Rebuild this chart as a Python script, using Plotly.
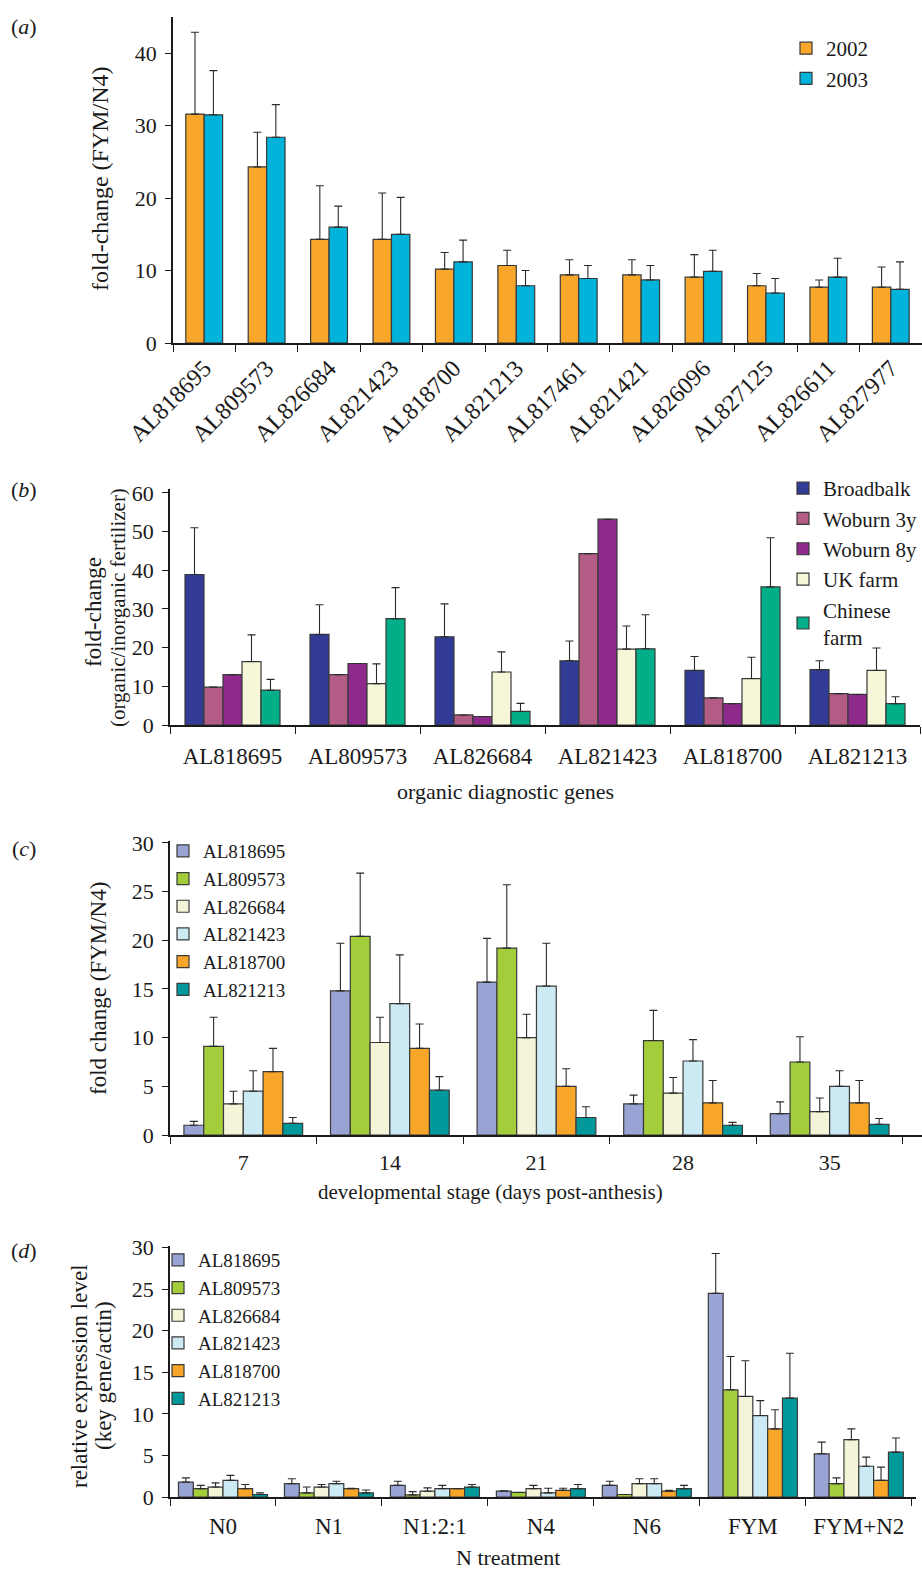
import plotly.graph_objects as go

W, H = 922, 1569
FONT = "Liberation Serif"
BLACK = "#1a1a1a"


def px(x):
    return x / W


def py(y):
    return 1 - y / H


# ---------------- Panel (a) data ----------------
genes_a = ["AL818695", "AL809573", "AL826684", "AL821423", "AL818700", "AL821213",
           "AL817461", "AL821421", "AL826096", "AL827125", "AL826611", "AL827977"]
years_a = ["2002", "2003"]
fc_2002 = [31.6, 24.3, 14.3, 14.3, 10.2, 10.7, 9.4, 9.4, 9.1, 7.9, 7.7, 7.7]
err_2002 = [11.3, 4.8, 7.4, 6.4, 2.3, 2.1, 2.1, 2.1, 3.1, 1.7, 1.0, 2.8]
fc_2003 = [31.5, 28.4, 16.0, 15.0, 11.2, 7.9, 8.9, 8.7, 9.9, 6.9, 9.1, 7.4]
err_2003 = [6.1, 4.5, 2.9, 5.1, 3.0, 2.1, 1.8, 2.0, 2.9, 2.0, 2.6, 3.8]

# ---------------- Panel (b) data ----------------
genes_b = ["AL818695", "AL809573", "AL826684", "AL821423", "AL818700", "AL821213"]
sources_b = ["Broadbalk", "Woburn 3y", "Woburn 8y", "UK farm", "Chinese<br>farm"]
broadbalk = [38.9, 23.4, 22.8, 16.6, 14.1, 14.3]
broadbalk_err = [12.1, 7.7, 8.5, 5.1, 3.6, 2.3]
woburn3y = [9.8, 13.0, 2.6, 44.3, 7.0, 8.1]
woburn3y_err = [0, 0, 0, 0, 0, 0]
woburn8y = [13.0, 15.9, 2.2, 53.2, 5.5, 7.9]
woburn8y_err = [0, 0, 0, 0, 0, 0]
ukfarm = [16.4, 10.7, 13.7, 19.6, 12.0, 14.1]
ukfarm_err = [6.9, 5.1, 5.2, 6.0, 5.5, 5.8]
chinese = [9.0, 27.5, 3.5, 19.7, 35.7, 5.5]
chinese_err = [2.8, 8.0, 2.1, 8.8, 12.7, 1.8]

# ---------------- Panel (c) data ----------------
days_c = ["7", "14", "21", "28", "35"]
genes_cd = ["AL818695", "AL809573", "AL826684", "AL821423", "AL818700", "AL821213"]
c_AL818695 = [1.0, 14.8, 15.7, 3.2, 2.2]
c_AL818695_err = [0.4, 4.9, 4.5, 0.9, 1.2]
c_AL809573 = [9.1, 20.4, 19.2, 9.7, 7.5]
c_AL809573_err = [3.0, 6.5, 6.5, 3.1, 2.6]
c_AL826684 = [3.2, 9.5, 10.0, 4.3, 2.4]
c_AL826684_err = [1.3, 2.6, 2.4, 1.6, 1.4]
c_AL821423 = [4.5, 13.5, 15.3, 7.6, 5.0]
c_AL821423_err = [2.1, 5.0, 4.4, 2.2, 1.6]
c_AL818700 = [6.5, 8.9, 5.0, 3.3, 3.3]
c_AL818700_err = [2.4, 2.5, 1.8, 2.3, 2.3]
c_AL821213 = [1.2, 4.6, 1.8, 1.0, 1.1]
c_AL821213_err = [0.6, 1.4, 1.1, 0.3, 0.6]

# ---------------- Panel (d) data ----------------
treat_d = ["N0", "N1", "N1:2:1", "N4", "N6", "FYM", "FYM+N2"]
d_AL818695 = [1.8, 1.6, 1.4, 0.7, 1.4, 24.5, 5.2]
d_AL818695_err = [0.5, 0.6, 0.5, 0.05, 0.5, 4.8, 1.4]
d_AL809573 = [1.0, 0.5, 0.25, 0.55, 0.3, 12.9, 1.6]
d_AL809573_err = [0.4, 0.7, 0.4, 0.0, 0.0, 4.0, 0.7]
d_AL826684 = [1.2, 1.2, 0.7, 1.0, 1.6, 12.1, 6.9]
d_AL826684_err = [0.5, 0.3, 0.4, 0.4, 0.6, 4.3, 1.3]
d_AL821423 = [2.0, 1.6, 1.0, 0.5, 1.6, 9.8, 3.7]
d_AL821423_err = [0.6, 0.3, 0.4, 0.55, 0.6, 1.8, 1.1]
d_AL818700 = [1.0, 1.0, 1.0, 0.8, 0.7, 8.2, 2.0]
d_AL818700_err = [0.5, 0.05, 0.0, 0.25, 0.1, 2.3, 1.6]
d_AL821213 = [0.3, 0.5, 1.2, 1.0, 1.0, 11.9, 5.4]
d_AL821213_err = [0.2, 0.35, 0.3, 0.5, 0.4, 5.4, 1.7]

# ---------------- styles ----------------
colors_a = ["#F9A72B", "#00B3DB"]
colors_b = ["#323B95", "#B35C86", "#8E2A8C", "#F6F6D8", "#00AE88"]
colors_cd = ["#9AA4D4", "#A4CD3C", "#F4F5D8", "#CCEAF3", "#F8A62A", "#00999B"]

fig = go.Figure()


def add_group(xcats, series, errs, names, colors, group_w, xa, ya, legend):
    n = len(series)
    w = group_w / n
    for i, (vals, er, name, col) in enumerate(zip(series, errs, names, colors)):
        fig.add_trace(go.Bar(
            x=xcats, y=vals, name=name, xaxis=xa, yaxis=ya, legend=legend,
            width=w, offset=-group_w / 2 + i * w,
            marker=dict(color=col, line=dict(color="#3a3a3a", width=1.2)),
            error_y=dict(type="data", symmetric=False, array=er,
                         arrayminus=[0] * len(er), color="#2a2a2a",
                         thickness=1.1, width=4),
        ))


add_group(genes_a, [fc_2002, fc_2003], [err_2002, err_2003], years_a, colors_a,
          0.59, "x", "y", "legend")
add_group(genes_b, [broadbalk, woburn3y, woburn8y, ukfarm, chinese],
          [broadbalk_err, woburn3y_err, woburn8y_err, ukfarm_err, chinese_err],
          sources_b, colors_b, 0.76, "x2", "y2", "legend2")
add_group(days_c, [c_AL818695, c_AL809573, c_AL826684, c_AL821423, c_AL818700, c_AL821213],
          [c_AL818695_err, c_AL809573_err, c_AL826684_err, c_AL821423_err,
           c_AL818700_err, c_AL821213_err],
          genes_cd, colors_cd, 0.81, "x3", "y3", "legend3")
add_group(treat_d, [d_AL818695, d_AL809573, d_AL826684, d_AL821423, d_AL818700, d_AL821213],
          [d_AL818695_err, d_AL809573_err, d_AL826684_err, d_AL821423_err,
           d_AL818700_err, d_AL821213_err],
          genes_cd, colors_cd, 0.84, "x4", "y4", "legend4")


def xax(domain, anchor, rng, angle=0, standoff=6, size=22):
    return dict(domain=domain, anchor=anchor, type="category", range=rng,
                showline=True, linecolor=BLACK, linewidth=1.6, ticks="outside",
                tickson="boundaries", ticklen=7, tickcolor=BLACK, tickwidth=1.2,
                tickfont=dict(family=FONT, size=size, color=BLACK), tickangle=angle,
                showgrid=False, zeroline=False,
                ticklabelstandoff=standoff, fixedrange=True, automargin=False)


def yax(domain, anchor, rng, dtick):
    return dict(domain=domain, anchor=anchor, range=rng, dtick=dtick,
                showline=True, linecolor=BLACK, linewidth=1.6, ticks="outside",
                ticklen=6, tickcolor=BLACK, tickwidth=1.2,
                tickfont=dict(family=FONT, size=22, color=BLACK),
                showgrid=False, zeroline=False, ticklabelstandoff=4, fixedrange=True,
                automargin=False)


def leg(x, y, size, xanchor="left"):
    return dict(x=x, y=y, xanchor=xanchor, yanchor="top",
                font=dict(family=FONT, size=size, color=BLACK),
                bgcolor="rgba(0,0,0,0)", borderwidth=0)


layout = dict(
    width=W, height=H, margin=dict(l=0, r=0, t=0, b=0, pad=0, autoexpand=False),
    paper_bgcolor="white", plot_bgcolor="white", barmode="overlay",
    font=dict(family=FONT, color=BLACK),
    xaxis=xax([px(173), 1.0], "y", [-0.5, 11.5], angle=-45, standoff=0, size=24),
    yaxis=yax([py(343), py(17)], "x", [0, 45], 10),
    xaxis2=xax([px(170), px(920)], "y2", [-0.5, 5.5], standoff=10, size=23),
    yaxis2=yax([py(725), py(489)], "x2", [0, 61], 10),
    xaxis3=xax([px(170), px(922)], "y3", [-0.5, 4.63], standoff=7, size=22),
    yaxis3=yax([py(1135), py(841)], "x3", [0, 30.2], 5),
    xaxis4=xax([px(170), px(916)], "y4", [-0.5, 6.54], standoff=8, size=23),
    yaxis4=yax([py(1497), py(1246)], "x4", [0, 30.2], 5),
    legend=leg(px(786), py(28), 21),
    legend2=leg(1.0, py(468), 21, "right"),
    legend3=leg(px(163), py(832), 19),
    legend4=leg(px(158), py(1241), 19),
)
fig.update_layout(**layout)

ann = []


def text(x, y, s, size=22, angle=0):
    ann.append(dict(x=px(x), y=py(y), xref="paper", yref="paper", text=s,
                    showarrow=False, textangle=angle, xanchor="center", yanchor="middle",
                    font=dict(family=FONT, size=size, color=BLACK)))


# panel labels
text(24, 27, "(<i>a</i>)", 22)
text(24, 489, "(<i>b</i>)", 22)
text(24, 848, "(<i>c</i>)", 22)
text(24, 1250, "(<i>d</i>)", 22)
# y-axis titles
text(100, 179, "fold-change (FYM/N4)", 24, -90)
text(93, 612, "fold-change", 23, -90)
text(118, 608, "(organic/inorganic fertilizer)", 21, -90)
text(99, 989, "fold change (FYM/N4)", 23, -90)
text(79, 1376, "relative expression level", 23, -90)
text(103, 1376, "(key gene/actin)", 23, -90)
# x-axis titles
text(505, 792, "organic diagnostic genes", 22)
text(490, 1192, "developmental stage (days post-anthesis)", 21)
text(508, 1557, "N treatment", 22)

fig.update_layout(annotations=ann)
fig.write_html("out.html", config={"displayModeBar": False},
               post_script="document.body.style.margin='0';document.body.style.padding='0';")
